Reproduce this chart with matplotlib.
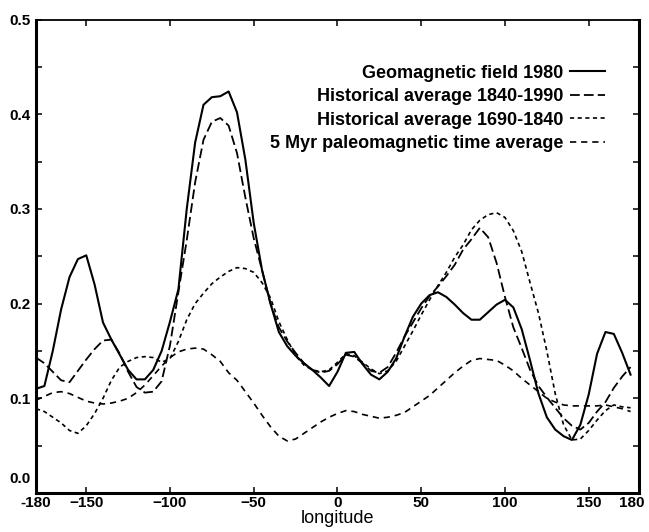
import matplotlib

matplotlib.use("Agg")
import matplotlib.pyplot as plt
import matplotlib.transforms as mtransforms
import numpy as np

# longitude grid (degrees), 5 degree steps
longitude = list(range(-180, 180, 5))

field_1980 = [
    0.110, 0.113, 0.150, 0.194, 0.228, 0.247, 0.251, 0.220, 0.180, 0.162,
    0.146, 0.130, 0.120, 0.120, 0.130, 0.150, 0.181, 0.215, 0.300, 0.370,
    0.410, 0.418, 0.419, 0.424, 0.402, 0.352, 0.285, 0.235, 0.200, 0.170,
    0.155, 0.145, 0.137, 0.130, 0.122, 0.113, 0.128, 0.148, 0.149, 0.136,
    0.125, 0.120, 0.128, 0.142, 0.165, 0.186, 0.200, 0.209, 0.212, 0.207,
    0.199, 0.190, 0.183, 0.183, 0.191, 0.199, 0.204, 0.196, 0.173, 0.140,
    0.105, 0.080, 0.067, 0.060, 0.056, 0.072, 0.104, 0.147, 0.170, 0.168,
    0.148, 0.125,
]

hist_1840_1990 = [
    0.143, 0.137, 0.128, 0.119, 0.117, 0.129, 0.141, 0.152, 0.161, 0.162,
    0.147, 0.128, 0.112, 0.106, 0.107, 0.118, 0.156, 0.212, 0.267, 0.328,
    0.373, 0.392, 0.396, 0.388, 0.359, 0.312, 0.269, 0.235, 0.200, 0.175,
    0.160, 0.148, 0.137, 0.130, 0.127, 0.129, 0.136, 0.146, 0.144, 0.137,
    0.129, 0.127, 0.133, 0.148, 0.165, 0.180, 0.195, 0.208, 0.218, 0.229,
    0.241, 0.257, 0.268, 0.280, 0.270, 0.243, 0.207, 0.175, 0.153, 0.130,
    0.113, 0.101, 0.090, 0.079, 0.071, 0.067, 0.074, 0.086, 0.096, 0.111,
    0.123, 0.133,
]

hist_1690_1840 = [
    0.089, 0.086, 0.080, 0.074, 0.066, 0.063, 0.071, 0.084, 0.100, 0.119,
    0.133, 0.139, 0.143, 0.144, 0.143, 0.138, 0.142, 0.160, 0.183, 0.200,
    0.211, 0.221, 0.228, 0.234, 0.238, 0.237, 0.233, 0.222, 0.206, 0.181,
    0.162, 0.145, 0.135, 0.130, 0.128, 0.130, 0.138, 0.147, 0.145, 0.138,
    0.131, 0.126, 0.129, 0.139, 0.155, 0.171, 0.188, 0.204, 0.219, 0.233,
    0.249, 0.262, 0.278, 0.288, 0.294, 0.296, 0.291, 0.277, 0.255, 0.222,
    0.190, 0.150, 0.105, 0.072, 0.056, 0.057, 0.066, 0.077, 0.087, 0.093,
    0.091, 0.090,
]

paleo_5myr = [
    0.098, 0.102, 0.106, 0.107, 0.105, 0.101, 0.097, 0.095, 0.094, 0.095,
    0.097, 0.100, 0.106, 0.114, 0.124, 0.134, 0.143, 0.149, 0.152, 0.153,
    0.152, 0.146, 0.139, 0.127, 0.119, 0.107, 0.095, 0.082, 0.070, 0.060,
    0.055, 0.057, 0.063, 0.069, 0.075, 0.080, 0.084, 0.087, 0.086, 0.083,
    0.081, 0.079, 0.080, 0.082, 0.085, 0.091, 0.097, 0.103, 0.111, 0.119,
    0.127, 0.134, 0.140, 0.142, 0.141, 0.140, 0.135, 0.129, 0.121, 0.114,
    0.107, 0.100, 0.096, 0.093, 0.092, 0.092, 0.092, 0.092, 0.093, 0.091,
    0.089, 0.086,
]

labels = [
    "Geomagnetic field 1980",
    "Historical average 1840-1990",
    "Historical average 1690-1840",
    "5 Myr paleomagnetic time average",
]

x_ticks = [-180, -150, -100, -50, 0, 50, 100, 150, 180]
x_tick_labels = ["-180", "\u2212150", "\u2212100", "\u221250", "0", "50", "100", "150", "180"]

plt.rcParams["font.family"] = ["Liberation Sans", "DejaVu Sans"]
plt.rcParams["font.weight"] = "bold"
plt.rcParams["lines.scale_dashes"] = False

fig = plt.figure(figsize=(6.49, 5.32), dpi=100)
ax = fig.add_axes([0.0555, 0.0733, 0.929, 0.890])

x = np.asarray(longitude)
ax.plot(x, field_1980, color="black", lw=1.5, label=labels[0])
ax.plot(x, hist_1840_1990, color="black", lw=1.3, dashes=(7, 3), label=labels[1])
ax.plot(x, hist_1690_1840, color="black", lw=1.2, dashes=(3, 2.5), label=labels[2])
ax.plot(x, paleo_5myr, color="black", lw=1.2, dashes=(4.5, 3.5), label=labels[3])

ax.set_xlim(-180, 180)
ax.set_ylim(0, 0.5)

ax.set_xticks(x_ticks)
ax.set_xticklabels(x_tick_labels)
y_ticks = np.arange(0, 0.51, 0.05)
ax.set_yticks(y_ticks)
ax.set_yticklabels([f"{v:.1f}" if i % 2 == 0 else "" for i, v in enumerate(y_ticks)])

ax.tick_params(axis="both", direction="in", length=4.5, width=1.1,
               top=True, right=True, labelsize=11)
ax.tick_params(axis="x", pad=2)
ax.tick_params(axis="y", pad=4)

# the 0.0 label sits a little above its tick in the original
lbl0 = ax.get_yticklabels()[0]
lbl0.set_transform(lbl0.get_transform()
                   + mtransforms.ScaledTranslation(0, 11 / 72, fig.dpi_scale_trans))
# keep the 180 label inside the figure
lbl180 = ax.get_xticklabels()[-1]
lbl180.set_transform(lbl180.get_transform()
                     + mtransforms.ScaledTranslation(-5 / 72, 0, fig.dpi_scale_trans))

for side in ["left", "bottom", "right"]:
    ax.spines[side].set_linewidth(2.2)
ax.spines["top"].set_linewidth(1.3)

ax.set_xlabel("longitude", fontsize=13, labelpad=0)

leg = ax.legend(loc="upper right", bbox_to_anchor=(0.943, 0.905),
                markerfirst=False, frameon=False, fontsize=13,
                handlelength=1.9, handletextpad=0.4, labelspacing=0.36,
                borderpad=0, borderaxespad=0)

fig.savefig("out.png", dpi=100)
